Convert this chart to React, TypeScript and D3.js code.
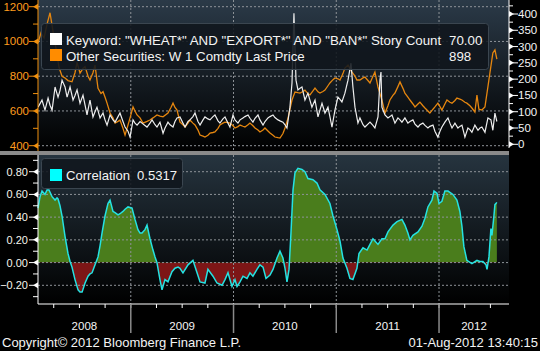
import * as d3 from 'd3';
import React from 'react';

// time is stored as decimal years
const wheatPrice: [number, number][] = [
  [2008.097, 990], [2008.126, 1050], [2008.156, 1020], [2008.185, 1100], [2008.214, 1165],
  [2008.243, 1060], [2008.272, 960], [2008.302, 850], [2008.331, 800], [2008.360, 790],
  [2008.389, 775], [2008.428, 768], [2008.457, 820], [2008.477, 880], [2008.506, 818],
  [2008.535, 845], [2008.555, 855], [2008.584, 800], [2008.603, 778], [2008.632, 820],
  [2008.652, 864], [2008.681, 730], [2008.710, 700], [2008.730, 711], [2008.749, 680],
  [2008.769, 645], [2008.798, 588], [2008.827, 560], [2008.847, 530], [2008.876, 540],
  [2008.895, 548], [2008.924, 500], [2008.944, 461], [2008.973, 519], [2008.993, 560],
  [2009.022, 623], [2009.041, 600], [2009.061, 577], [2009.090, 560], [2009.119, 530],
  [2009.158, 540], [2009.187, 548], [2009.216, 560], [2009.255, 577], [2009.284, 570],
  [2009.314, 566], [2009.362, 588], [2009.391, 620], [2009.411, 645], [2009.430, 620],
  [2009.450, 605], [2009.479, 536], [2009.508, 520], [2009.528, 508], [2009.557, 530],
  [2009.576, 548], [2009.605, 530], [2009.625, 519], [2009.654, 490], [2009.674, 461],
  [2009.703, 455], [2009.722, 450], [2009.751, 460], [2009.771, 473], [2009.800, 476],
  [2009.819, 479], [2009.849, 500], [2009.868, 519], [2009.897, 530], [2009.917, 536],
  [2009.946, 533], [2009.965, 530], [2009.995, 515], [2010.014, 502], [2010.043, 510],
  [2010.063, 519], [2010.092, 512], [2010.111, 508], [2010.141, 520], [2010.160, 530],
  [2010.189, 515], [2010.209, 502], [2010.238, 490], [2010.257, 479], [2010.287, 490],
  [2010.306, 502], [2010.335, 485], [2010.355, 473], [2010.384, 460], [2010.403, 450],
  [2010.433, 446], [2010.452, 444], [2010.481, 470], [2010.501, 502], [2010.530, 559],
  [2010.549, 610], [2010.569, 663], [2010.598, 709], [2010.627, 705], [2010.647, 703],
  [2010.676, 712], [2010.695, 720], [2010.724, 700], [2010.744, 692], [2010.773, 715],
  [2010.793, 732], [2010.822, 710], [2010.841, 703], [2010.870, 712], [2010.890, 720],
  [2010.919, 745], [2010.938, 761], [2010.968, 780], [2010.987, 790], [2011.016, 785],
  [2011.036, 778], [2011.065, 815], [2011.084, 847], [2011.114, 864], [2011.133, 845],
  [2011.153, 824], [2011.182, 800], [2011.201, 778], [2011.230, 778], [2011.260, 790],
  [2011.279, 795], [2011.308, 775], [2011.328, 761], [2011.357, 800], [2011.376, 824],
  [2011.406, 738], [2011.425, 700], [2011.444, 663], [2011.474, 588], [2011.503, 630],
  [2011.522, 663], [2011.551, 690], [2011.571, 703], [2011.600, 740], [2011.620, 767],
  [2011.649, 730], [2011.668, 703], [2011.697, 680], [2011.717, 663], [2011.746, 640],
  [2011.766, 623], [2011.795, 640], [2011.814, 651], [2011.843, 630], [2011.863, 617],
  [2011.892, 600], [2011.911, 588], [2011.941, 610], [2011.960, 623], [2011.989, 645],
  [2012.009, 625], [2012.028, 605], [2012.057, 640], [2012.077, 663], [2012.106, 650],
  [2012.126, 645], [2012.155, 660], [2012.174, 674], [2012.203, 668], [2012.223, 663],
  [2012.252, 650], [2012.271, 645], [2012.301, 630], [2012.320, 617], [2012.349, 594],
  [2012.369, 692], [2012.388, 610], [2012.417, 605], [2012.447, 623], [2012.476, 740],
  [2012.495, 818], [2012.524, 934], [2012.544, 951], [2012.563, 898],
];

const storyCount: [number, number][] = [
  [2008.097, 114], [2008.117, 125], [2008.136, 136], [2008.165, 105], [2008.195, 142],
  [2008.214, 120], [2008.234, 105], [2008.263, 176], [2008.292, 145], [2008.311, 165],
  [2008.331, 197], [2008.360, 176], [2008.380, 145], [2008.409, 176], [2008.438, 136],
  [2008.457, 150], [2008.477, 167], [2008.506, 126], [2008.535, 151], [2008.555, 120],
  [2008.574, 90], [2008.603, 136], [2008.632, 84], [2008.652, 100], [2008.671, 114],
  [2008.701, 81], [2008.730, 96], [2008.749, 75], [2008.769, 59], [2008.798, 90],
  [2008.827, 75], [2008.847, 68], [2008.876, 85], [2008.895, 96], [2008.924, 70],
  [2008.944, 53], [2008.973, 40], [2008.993, 22], [2009.022, 75], [2009.041, 65],
  [2009.061, 59], [2009.090, 70], [2009.109, 65], [2009.138, 58], [2009.158, 53],
  [2009.187, 65], [2009.207, 75], [2009.236, 60], [2009.255, 53], [2009.284, 68],
  [2009.314, 34], [2009.333, 50], [2009.362, 68], [2009.382, 60], [2009.411, 53],
  [2009.430, 70], [2009.450, 81], [2009.479, 84], [2009.508, 65], [2009.528, 53],
  [2009.557, 70], [2009.576, 75], [2009.605, 85], [2009.625, 96], [2009.654, 70],
  [2009.674, 59], [2009.703, 75], [2009.722, 84], [2009.751, 78], [2009.771, 75],
  [2009.800, 85], [2009.819, 90], [2009.849, 72], [2009.868, 65], [2009.897, 78],
  [2009.917, 84], [2009.946, 65], [2009.965, 53], [2009.995, 90], [2010.014, 75],
  [2010.043, 65], [2010.063, 75], [2010.092, 81], [2010.111, 85], [2010.141, 90],
  [2010.160, 80], [2010.189, 68], [2010.209, 80], [2010.238, 90], [2010.257, 75],
  [2010.287, 59], [2010.306, 70], [2010.335, 81], [2010.355, 85], [2010.384, 90],
  [2010.403, 82], [2010.433, 75], [2010.452, 72], [2010.481, 68], [2010.501, 60],
  [2010.520, 50], [2010.549, 114], [2010.569, 188], [2010.588, 402], [2010.608, 197],
  [2010.627, 167], [2010.647, 172], [2010.666, 176], [2010.695, 136], [2010.724, 157],
  [2010.744, 135], [2010.763, 114], [2010.793, 136], [2010.822, 84], [2010.841, 105],
  [2010.861, 126], [2010.890, 96], [2010.919, 114], [2010.938, 85], [2010.958, 53],
  [2010.987, 105], [2011.016, 145], [2011.036, 138], [2011.055, 130], [2011.084, 157],
  [2011.114, 197], [2011.143, 249], [2011.162, 176], [2011.182, 114], [2011.211, 65],
  [2011.230, 81], [2011.260, 60], [2011.279, 53], [2011.308, 62], [2011.328, 68],
  [2011.357, 58], [2011.376, 50], [2011.406, 84], [2011.425, 197], [2011.435, 222],
  [2011.444, 114], [2011.474, 90], [2011.503, 81], [2011.522, 85], [2011.542, 90],
  [2011.571, 65], [2011.600, 81], [2011.620, 75], [2011.639, 68], [2011.668, 81],
  [2011.697, 65], [2011.717, 70], [2011.746, 75], [2011.766, 62], [2011.795, 53],
  [2011.814, 60], [2011.843, 65], [2011.863, 58], [2011.892, 50], [2011.911, 55],
  [2011.941, 59], [2011.960, 40], [2011.989, 22], [2012.009, 40], [2012.028, 53],
  [2012.057, 68], [2012.087, 81], [2012.106, 65], [2012.126, 50], [2012.155, 65],
  [2012.184, 50], [2012.203, 55], [2012.223, 59], [2012.252, 22], [2012.281, 50],
  [2012.301, 45], [2012.320, 37], [2012.349, 59], [2012.379, 43], [2012.398, 50],
  [2012.417, 53], [2012.447, 37], [2012.476, 81], [2012.505, 75], [2012.524, 43],
  [2012.544, 96], [2012.563, 70],
];

const correlation: [number, number][] = [
  [2008.097, 0.48], [2008.117, 0.58], [2008.136, 0.63], [2008.165, 0.60], [2008.185, 0.64],
  [2008.204, 0.64], [2008.234, 0.58], [2008.263, 0.55], [2008.282, 0.57], [2008.292, 0.56],
  [2008.311, 0.50], [2008.331, 0.41], [2008.360, 0.23], [2008.389, 0.08], [2008.409, 0.01],
  [2008.428, -0.04], [2008.457, -0.15], [2008.487, -0.24], [2008.506, -0.26], [2008.526, -0.26],
  [2008.555, -0.18], [2008.584, -0.12], [2008.603, -0.10], [2008.623, -0.09], [2008.652, -0.02],
  [2008.681, 0.05], [2008.701, 0.15], [2008.720, 0.26], [2008.749, 0.41], [2008.778, 0.52],
  [2008.798, 0.55], [2008.827, 0.45], [2008.847, 0.44], [2008.876, 0.42], [2008.895, 0.43],
  [2008.924, 0.45], [2008.944, 0.47], [2008.973, 0.49], [2009.012, 0.48], [2009.041, 0.38],
  [2009.070, 0.29], [2009.090, 0.26], [2009.109, 0.26], [2009.138, 0.29], [2009.158, 0.33],
  [2009.187, 0.21], [2009.216, 0.11], [2009.236, 0.05], [2009.255, 0.0], [2009.284, -0.15],
  [2009.304, -0.24], [2009.333, -0.15], [2009.362, -0.17], [2009.401, -0.08], [2009.430, -0.05],
  [2009.460, -0.04], [2009.479, -0.05], [2009.508, -0.09], [2009.557, -0.02], [2009.605, 0.02],
  [2009.645, -0.09], [2009.674, -0.17], [2009.722, -0.18], [2009.751, -0.06], [2009.800, -0.12],
  [2009.839, -0.18], [2009.888, -0.20], [2009.917, -0.15], [2009.946, -0.09], [2009.985, -0.21],
  [2010.014, -0.15], [2010.034, -0.21], [2010.063, -0.17], [2010.092, -0.12], [2010.131, -0.14],
  [2010.160, -0.09], [2010.189, -0.12], [2010.228, -0.06], [2010.257, -0.02], [2010.287, -0.04],
  [2010.316, -0.14], [2010.355, -0.11], [2010.384, -0.06], [2010.423, 0.04], [2010.452, 0.10],
  [2010.481, 0.04], [2010.501, -0.05], [2010.520, -0.17], [2010.540, -0.06], [2010.559, 0.26],
  [2010.579, 0.64], [2010.598, 0.79], [2010.627, 0.83], [2010.666, 0.82], [2010.695, 0.80],
  [2010.724, 0.74], [2010.773, 0.73], [2010.812, 0.70], [2010.841, 0.64], [2010.890, 0.60],
  [2010.938, 0.52], [2010.968, 0.41], [2011.007, 0.29], [2011.036, 0.19], [2011.065, 0.04],
  [2011.104, -0.05], [2011.133, -0.14], [2011.162, -0.15], [2011.201, -0.05], [2011.221, 0.08],
  [2011.260, 0.13], [2011.299, 0.11], [2011.328, 0.16], [2011.357, 0.21], [2011.406, 0.16],
  [2011.444, 0.21], [2011.474, 0.21], [2011.503, 0.27], [2011.552, 0.33], [2011.591, 0.36],
  [2011.639, 0.38], [2011.668, 0.33], [2011.697, 0.26], [2011.717, 0.20], [2011.746, 0.24],
  [2011.795, 0.27], [2011.834, 0.32], [2011.863, 0.39], [2011.892, 0.49], [2011.931, 0.55],
  [2011.951, 0.63], [2011.980, 0.61], [2012.000, 0.52], [2012.028, 0.54], [2012.057, 0.63],
  [2012.087, 0.63], [2012.135, 0.60], [2012.174, 0.55], [2012.203, 0.45], [2012.223, 0.32],
  [2012.242, 0.14], [2012.271, 0.02], [2012.320, -0.01], [2012.369, 0.02], [2012.398, 0.01],
  [2012.427, 0.01], [2012.457, -0.02], [2012.467, -0.06], [2012.486, 0.05], [2012.505, 0.30],
  [2012.515, 0.24], [2012.534, 0.41], [2012.544, 0.51], [2012.563, 0.53],
];

const years = [2008, 2009, 2010, 2011, 2012];
const priceTicks = [400, 600, 800, 1000, 1200];
const priceMinor = [500, 700, 900, 1100];
const countTicks = [0, 50, 100, 150, 200, 250, 300, 350, 400];
const countMinor = [25, 75, 125, 175, 225, 275, 325, 375, 425];
const corrTicks = [-0.2, 0, 0.2, 0.4, 0.6, 0.8];
const corrMinor = [-0.3, -0.1, 0.1, 0.3, 0.5, 0.7, 0.9];

const FONT = "'Liberation Sans', Arial, sans-serif";

const App = () => {
  const L = 38;
  const R = 509;
  const top = { y0: 0, y1: 151 };
  const bot = { y0: 155, y1: 304 };

  const x = d3.scaleLinear().domain([2008.097, 2012.681]).range([L, R]);
  const yPrice = d3.scaleLinear().domain([400, 1200]).range([145.7, 6.7]);
  const yCount = d3.scaleLinear().domain([0, 400]).range([144.3, 14]);
  const yCorr = d3.scaleLinear().domain([-0.2, 0.8]).range([285.3, 171.7]);

  const priceLine = d3.line<[number, number]>().x(d => x(d[0])).y(d => yPrice(d[1]));
  const countLine = d3.line<[number, number]>().x(d => x(d[0])).y(d => yCount(d[1]));
  const corrLine = d3.line<[number, number]>().x(d => x(d[0])).y(d => yCorr(d[1]));
  const corrArea = d3.area<[number, number]>().x(d => x(d[0])).y0(yCorr(0)).y1(d => yCorr(d[1]));

  const [d0, d1] = x.domain();
  const quarters: number[] = [];
  years.forEach(yr => [0, 0.25, 0.5, 0.75].forEach(q => {
    const t = yr + q;
    if (t > d0 && t < d1) quarters.push(t);
  }));
  const yearLines = years.filter(yr => yr > d0 && yr < d1);

  const grid = '#8e9398';

  const leftMark = (y: number, color: string, key: string | number) => (
    <g key={key}>
      <polygon points={`${L},${y - 3} ${L},${y + 3} ${L - 5},${y}`} fill={color} />
      <line x1={L - 9} x2={L - 4} y1={y} y2={y} stroke={color} strokeWidth={1} />
    </g>
  );
  const rightMark = (y: number, color: string, key: string | number) => (
    <g key={key}>
      <polygon points={`${R},${y - 3} ${R},${y + 3} ${R + 5},${y}`} fill={color} />
      <line x1={R + 4} x2={R + 9} y1={y} y2={y} stroke={color} strokeWidth={1} />
    </g>
  );

  return (
    <svg width={540} height={351} style={{ position: 'absolute', left: 0, top: 0, display: 'block' }}
      fontFamily={FONT}>
      <defs>
        <linearGradient id="gTop" x1="0" y1="0" x2="0" y2="1">
          <stop offset="0" stopColor="#2b3a48" />
          <stop offset="1" stopColor="#000000" />
        </linearGradient>
        <linearGradient id="gBot" x1="0" y1="0" x2="0" y2="1">
          <stop offset="0" stopColor="#26343f" />
          <stop offset="1" stopColor="#000000" />
        </linearGradient>
        <clipPath id="cPos"><rect x={L} y={bot.y0} width={R - L} height={yCorr(0) - bot.y0} /></clipPath>
        <clipPath id="cNeg"><rect x={L} y={yCorr(0)} width={R - L} height={bot.y1 - yCorr(0)} /></clipPath>
        <clipPath id="cTop"><rect x={L} y={top.y0} width={R - L} height={top.y1 - top.y0} /></clipPath>
      </defs>
      <rect width={540} height={351} fill="#000" />

      {/* top panel */}
      <rect x={L} y={top.y0} width={R - L} height={top.y1 - top.y0} fill="url(#gTop)" />
      {priceTicks.map(v => (
        <line key={v} x1={L} x2={R} y1={yPrice(v)} y2={yPrice(v)} stroke={grid} strokeDasharray="2,2" />
      ))}
      {yearLines.map(yr => (
        <line key={yr} x1={x(yr)} x2={x(yr)} y1={top.y0} y2={top.y1} stroke={grid} strokeDasharray="2,2" />
      ))}
      <g clipPath="url(#cTop)">
        <path d={priceLine(wheatPrice) || ''} fill="none" stroke="#e5860f" strokeWidth={1.3} />
        <path d={countLine(storyCount) || ''} fill="none" stroke="#eeeeee" strokeWidth={1.2} />
      </g>

      {/* top legend */}
      <rect x={41.5} y={23.5} width={447} height={46} rx={3} fill="#10161c" fillOpacity={0.88} stroke="#3b4650" />
      <rect x={50} y={33} width={12} height={12} fill="#ffffff" />
      <rect x={50} y={49} width={12} height={12} fill="#ff8c00" />
      <g fill="#f4f4f4" fontSize={13.3}>
        <text x={66} y={45}>Keyword: "WHEAT*" AND "EXPORT*" AND "BAN*" Story Count</text>
        <text x={449} y={45}>70.00</text>
        <text x={66} y={61}>Other Securities: W 1 Comdty Last Price</text>
        <text x={449} y={61}>898</text>
      </g>

      {/* top axes */}
      <line x1={L} x2={L} y1={top.y0} y2={top.y1} stroke="#f0900f" />
      {priceMinor.map(v => (
        <line key={v} x1={L - 5} x2={L} y1={yPrice(v)} y2={yPrice(v)} stroke="#f0900f" />
      ))}
      {priceTicks.map(v => leftMark(yPrice(v), '#f0900f', v))}
      {priceTicks.map(v => (
        <text key={v} x={L - 9} y={yPrice(v) + 4} textAnchor="end" fill="#ff9c1e" fontSize={11.5}>{v}</text>
      ))}
      <line x1={R} x2={R} y1={top.y0} y2={148} stroke="#ffffff" />
      {countMinor.map(v => (
        <line key={v} x1={R} x2={R + 4} y1={yCount(v)} y2={yCount(v)} stroke="#ffffff" />
      ))}
      {countTicks.map(v => rightMark(yCount(v), '#ffffff', v))}
      {countTicks.map(v => (
        <text key={v} x={R + 9} y={yCount(v) + 4} fill="#f4f4f4" fontSize={11.5}>{v}</text>
      ))}

      {/* separator */}
      <rect x={0} y={151} width={R} height={4} fill="#8a8a8a" />

      {/* bottom panel */}
      <rect x={L} y={bot.y0} width={R - L} height={bot.y1 - bot.y0} fill="url(#gBot)" />
      <path d={corrArea(correlation) || ''} fill="#4a7d1c" clipPath="url(#cPos)" />
      <path d={corrArea(correlation) || ''} fill="#7d1616" clipPath="url(#cNeg)" />
      {corrTicks.map(v => (
        <line key={v} x1={L} x2={R} y1={yCorr(v)} y2={yCorr(v)} stroke={grid} strokeDasharray="2,2" />
      ))}
      {yearLines.map(yr => (
        <line key={yr} x1={x(yr)} x2={x(yr)} y1={bot.y0} y2={bot.y1} stroke={grid} strokeDasharray="2,2" />
      ))}
      <path d={corrLine(correlation) || ''} fill="none" stroke="#25e2e2" strokeWidth={1.5} />

      {/* bottom legend */}
      <rect x={41.5} y={158.5} width={141} height={30} rx={3} fill="#10161c" fillOpacity={0.88} stroke="#3b4650" />
      <rect x={50} y={169} width={12} height={12} fill="#00ffff" />
      <g fill="#f4f4f4" fontSize={13.1}>
        <text x={66} y={180}>Correlation</text>
        <text x={137} y={180}>0.5317</text>
      </g>

      {/* bottom axes */}
      <line x1={L} x2={L} y1={bot.y0} y2={bot.y1} stroke="#ffffff" />
      {corrMinor.map(v => (
        <line key={v} x1={L - 5} x2={L} y1={yCorr(v)} y2={yCorr(v)} stroke="#ffffff" />
      ))}
      {corrTicks.map(v => leftMark(yCorr(v), '#ffffff', v))}
      {corrTicks.map(v => (
        <text key={v} x={L - 10} y={yCorr(v) + 4} textAnchor="end" fill="#f6f6ee" fontSize={11}>{d3.format('.2f')(v)}</text>
      ))}
      <line x1={L} x2={R} y1={bot.y1} y2={bot.y1} stroke="#ffffff" />
      {quarters.map(t => (
        <line key={t} x1={x(t)} x2={x(t)} y1={bot.y1} y2={bot.y1 + 4} stroke="#ffffff" />
      ))}
      {yearLines.map(yr => (
        <line key={yr} x1={x(yr)} x2={x(yr)} y1={bot.y1} y2={333} stroke="#8a8a8a" strokeWidth={1.5} />
      ))}
      {years.map(yr => {
        const a = Math.max(yr, d0);
        const b = Math.min(yr + 1, d1);
        return (
          <text key={yr} x={(x(a) + x(b)) / 2} y={330} textAnchor="middle" fill="#f4f4f4" fontSize={11.5}>{yr}</text>
        );
      })}

      {/* footer */}
      <text x={2} y={347} fill="#f4f4f4" fontSize={13}>Copyright© 2012 Bloomberg Finance L.P.</text>
      <text x={538} y={347} textAnchor="end" fill="#f4f4f4" fontSize={13}>01-Aug-2012 13:40:15</text>
    </svg>
  );
};

export default App;
